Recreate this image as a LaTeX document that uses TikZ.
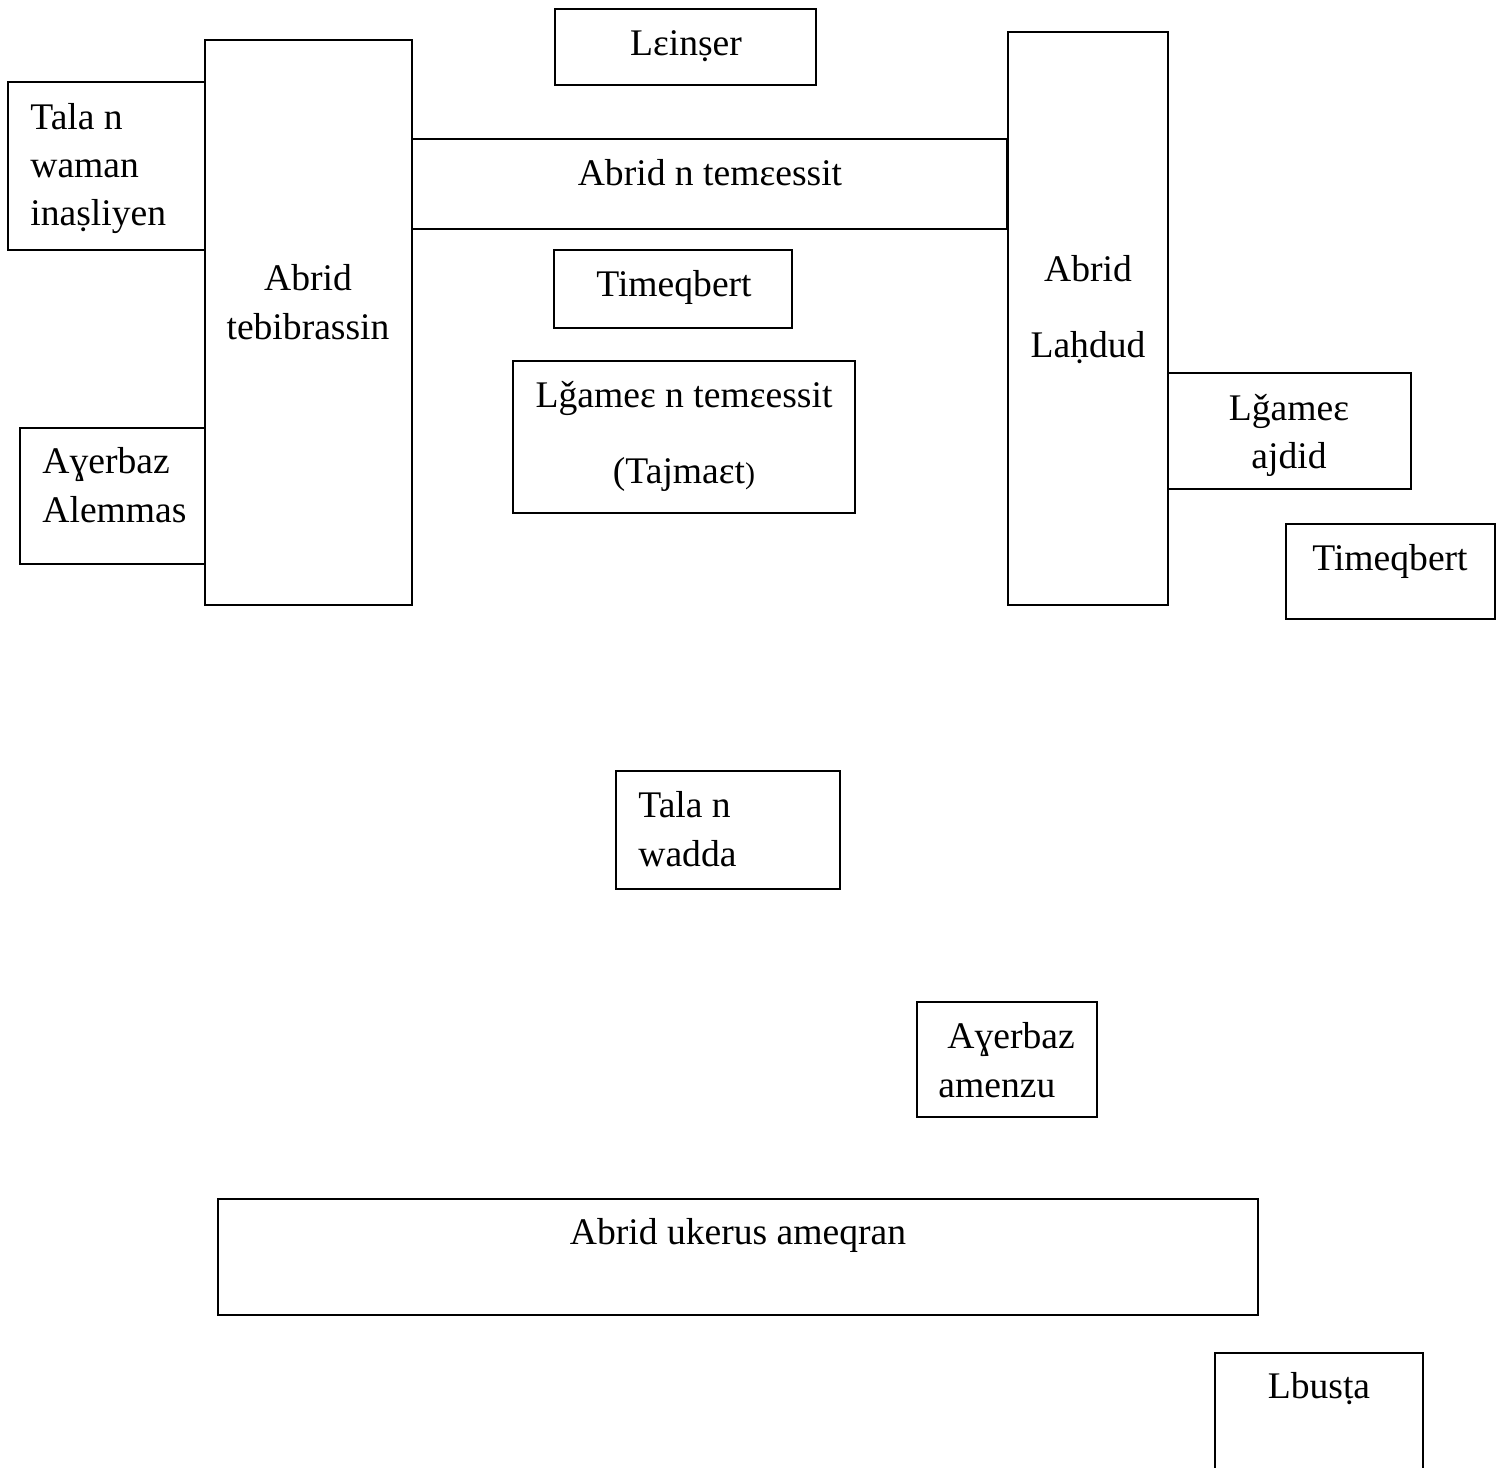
\documentclass[tikz,border=0pt]{standalone}
\usepackage{fontspec}
\setmainfont{Liberation Serif}
\usetikzlibrary{fit}
\tikzset{
  boxst/.style={draw=black, line width=1.3pt, inner sep=0pt, fill=none},
  txt/.style={inner sep=0pt, font=\fontsize{18.8}{24}\selectfont},
  ctxt/.style={txt, anchor=base},
  ltxt/.style={txt, anchor=base west}
}
\begin{document}
\begin{tikzpicture}[x=0.5pt, y=-0.5pt]
\clip (0,0) rectangle (1506,1468);
\fill[white] (0,0) rectangle (1506,1468);
% boxes
\node[boxst, fit={(555,9)(816,85)}] (leinser) {};
\node[boxst, fit={(8,82)(205,250)}] (tala1) {};
\node[boxst, fit={(205,40)(412,605)}] (tebib) {};
\node[boxst, fit={(20,428)(205,564)}] (ayerbaz1) {};
\node[boxst, fit={(412,139)(1007,229)}] (temessit) {};
\node[boxst, fit={(554,250)(792,328)}] (timeq1) {};
\node[boxst, fit={(513,361)(855,513)}] (ljamea1) {};
\node[boxst, fit={(1008,32)(1168,605)}] (lahdud) {};
\node[boxst, fit={(1168,373)(1411,489)}] (ljamea2) {};
\node[boxst, fit={(1286,524)(1495,619)}] (timeq2) {};
\node[boxst, fit={(616,771)(840,889)}] (tala2) {};
\node[boxst, fit={(917,1002)(1097,1117)}] (ayerbaz2) {};
\node[boxst, fit={(218,1199)(1258,1315)}] (ukerus) {};
\node[boxst, fit={(1215,1353)(1423,1480)}] (lbusta) {};
% texts
\node[ctxt] (tleinser) at (686,55) {Lɛinṣer};
\node[ltxt] (ttala1a) at (30,129) {Tala n};
\node[ltxt] (ttala1b) at (30,177) {waman};
\node[ltxt] (ttala1c) at (30,225) {inaṣliyen};
\node[ctxt] (ttebiba) at (308,290) {Abrid};
\node[ctxt] (ttebibb) at (308,339) {tebibrassin};
\node[ltxt] (tayer1a) at (42,473) {Aɣerbaz};
\node[ltxt] (tayer1b) at (42,522) {Alemmas};
\node[ctxt] (ttemessit) at (710,185) {Abrid n temɛessit};
\node[ctxt] (ttimeq1) at (674,296) {Timeqbert};
\node[ctxt] (tljam1a) at (684,407) {Lǧameɛ n temɛessit};
\node[ctxt] (tljam1b) at (684,483) {(Tajmaɛt{\fontsize{15}{18}\selectfont )}};
\node[ctxt] (tlahda) at (1088,281) {Abrid};
\node[ctxt] (tlahdb) at (1088,357) {Laḥdud};
\node[ctxt] (tljam2a) at (1289,420) {Lǧameɛ};
\node[ctxt] (tljam2b) at (1289,468) {ajdid};
\node[ctxt] (ttimeq2) at (1390,570) {Timeqbert};
\node[ltxt] (ttala2a) at (638,817) {Tala n};
\node[ltxt] (ttala2b) at (638,866) {wadda};
\node[ltxt] (tayer2a) at (947,1048) {Aɣerbaz};
\node[ltxt] (tayer2b) at (938,1097) {amenzu};
\node[ctxt] (tukerus) at (738,1244) {Abrid ukerus ameqran};
\node[ctxt] (tlbusta) at (1319,1398) {Lbusṭa};
\end{tikzpicture}
\end{document}
